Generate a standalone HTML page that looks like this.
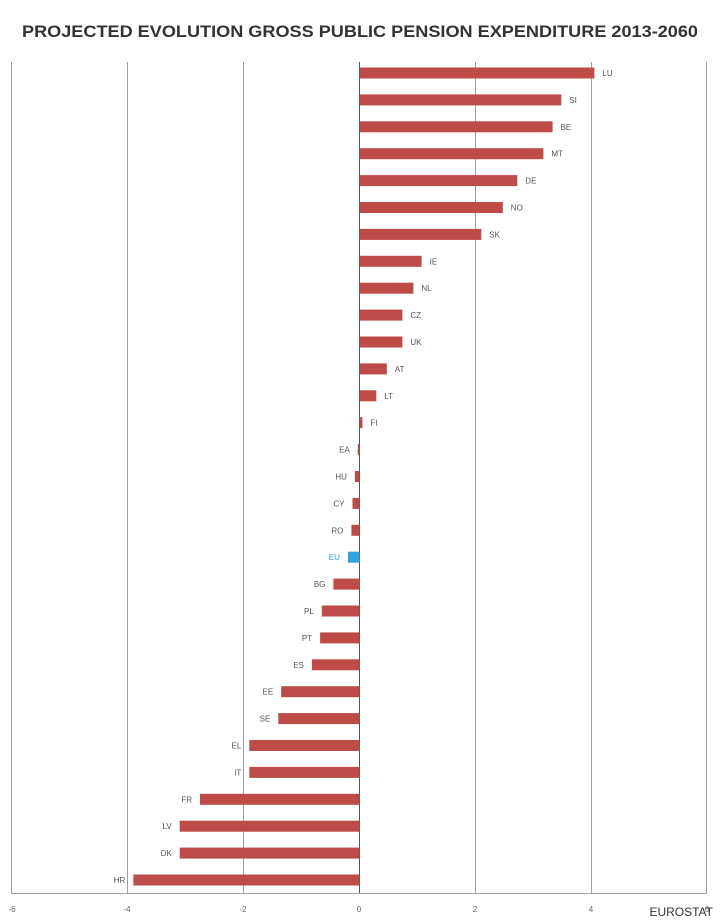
<!DOCTYPE html>
<html><head><meta charset="utf-8"><style>html,body{margin:0;padding:0;background:#fff}svg{display:block}</style></head>
<body>
<svg width="720" height="921" viewBox="0 0 720 921" xmlns="http://www.w3.org/2000/svg" font-family="Liberation Sans, sans-serif">
<text x="360" y="37" text-anchor="middle" font-size="17" font-weight="bold" fill="#333" textLength="676" lengthAdjust="spacingAndGlyphs">PROJECTED EVOLUTION GROSS PUBLIC PENSION EXPENDITURE 2013-2060</text>
<g stroke="#a0a0a0" stroke-width="1">
<line x1="11.5" y1="62" x2="11.5" y2="893"/>
<line x1="127.5" y1="62" x2="127.5" y2="893"/>
<line x1="243.5" y1="62" x2="243.5" y2="893"/>
<line x1="475.5" y1="62" x2="475.5" y2="893"/>
<line x1="591.5" y1="62" x2="591.5" y2="893"/>
<line x1="706.5" y1="62" x2="706.5" y2="893"/>
<line x1="11" y1="893.5" x2="707" y2="893.5"/>
</g>
<line x1="359.5" y1="62" x2="359.5" y2="893" stroke="#555" stroke-width="1"/>
<g font-size="8" fill="#666" text-anchor="middle">
<text x="12" y="912">-6</text><text x="127" y="912">-4</text><text x="243" y="912">-2</text><text x="359" y="912">0</text><text x="475" y="912">2</text><text x="591" y="912">4</text><text x="707" y="912">6</text>
</g>
<text x="713" y="916" text-anchor="end" font-size="12" fill="#333">EUROSTAT</text>
<g fill="#bd4b48">
<rect x="359.5" y="67.5" width="234.9" height="11"/>
<rect x="359.5" y="94.4" width="201.8" height="11"/>
<rect x="359.5" y="121.3" width="193.1" height="11"/>
<rect x="359.5" y="148.2" width="183.9" height="11"/>
<rect x="359.5" y="175.1" width="157.8" height="11"/>
<rect x="359.5" y="202" width="143.3" height="11"/>
<rect x="359.5" y="228.9" width="121.8" height="11"/>
<rect x="359.5" y="255.8" width="62.1" height="11"/>
<rect x="359.5" y="282.7" width="53.9" height="11"/>
<rect x="359.5" y="309.6" width="42.9" height="11"/>
<rect x="359.5" y="336.5" width="42.9" height="11"/>
<rect x="359.5" y="363.4" width="27.3" height="11"/>
<rect x="359.5" y="390.3" width="16.8" height="11"/>
<rect x="359.5" y="417.2" width="2.9" height="11"/>
<rect x="357.8" y="444.1" width="1.7" height="11"/>
<rect x="354.9" y="471" width="4.6" height="11"/>
<rect x="352.5" y="497.9" width="7" height="11"/>
<rect x="351.4" y="524.8" width="8.1" height="11"/>
<rect x="347.9" y="551.7" width="11.6" height="11" fill="#2ea3dc"/>
<rect x="333.4" y="578.6" width="26.1" height="11"/>
<rect x="321.8" y="605.5" width="37.7" height="11"/>
<rect x="320.1" y="632.4" width="39.4" height="11"/>
<rect x="311.9" y="659.3" width="47.6" height="11"/>
<rect x="281.2" y="686.2" width="78.3" height="11"/>
<rect x="278.3" y="713.1" width="81.2" height="11"/>
<rect x="249.3" y="740" width="110.2" height="11"/>
<rect x="249.3" y="766.9" width="110.2" height="11"/>
<rect x="200" y="793.8" width="159.5" height="11"/>
<rect x="179.7" y="820.7" width="179.8" height="11"/>
<rect x="179.7" y="847.6" width="179.8" height="11"/>
<rect x="133.3" y="874.5" width="226.2" height="11"/>
</g>
<g font-size="8" fill="#555">
<text x="602.4" y="76">LU</text>
<text x="569.3" y="102.9">SI</text>
<text x="560.6" y="129.8">BE</text>
<text x="551.4" y="156.7">MT</text>
<text x="525.3" y="183.6">DE</text>
<text x="510.8" y="210.5">NO</text>
<text x="489.3" y="237.4">SK</text>
<text x="429.6" y="264.3">IE</text>
<text x="421.4" y="291.2">NL</text>
<text x="410.4" y="318.1">CZ</text>
<text x="410.4" y="345">UK</text>
<text x="394.8" y="371.9">AT</text>
<text x="384.3" y="398.8">LT</text>
<text x="370.4" y="425.7">FI</text>
</g>
<g font-size="8" fill="#555" text-anchor="end">
<text x="349.8" y="452.6">EA</text>
<text x="346.9" y="479.5">HU</text>
<text x="344.5" y="506.4">CY</text>
<text x="343.4" y="533.3">RO</text>
<text x="339.9" y="560.2" fill="#2ea3dc">EU</text>
<text x="325.4" y="587.1">BG</text>
<text x="313.8" y="614">PL</text>
<text x="312.1" y="640.9">PT</text>
<text x="303.9" y="667.8">ES</text>
<text x="273.2" y="694.7">EE</text>
<text x="270.3" y="721.6">SE</text>
<text x="241.3" y="748.5">EL</text>
<text x="241.3" y="775.4">IT</text>
<text x="192" y="802.3">FR</text>
<text x="171.7" y="829.2">LV</text>
<text x="171.7" y="856.1">DK</text>
<text x="125.3" y="883">HR</text>
</g>
</svg>
</body></html>
